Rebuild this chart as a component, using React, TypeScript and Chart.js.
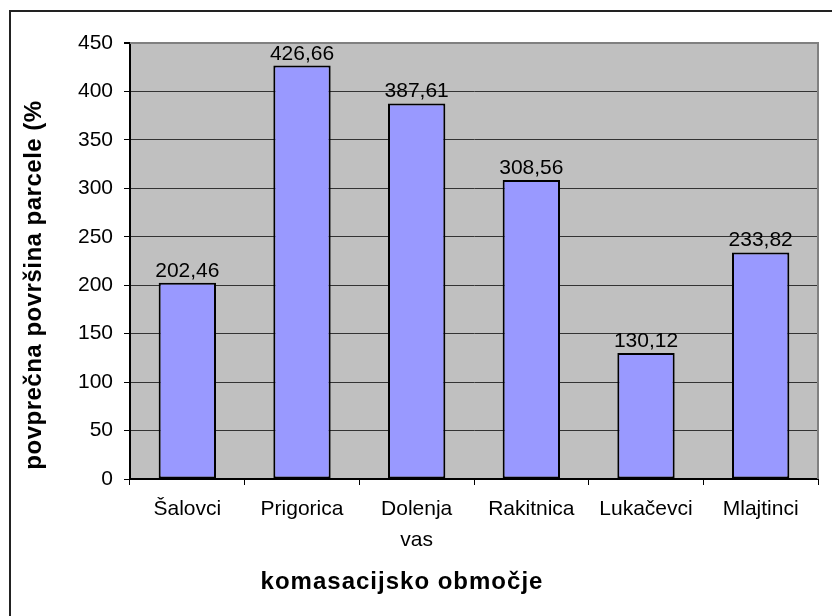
import React, { useEffect, useRef } from "react";
import { Chart, registerables } from "chart.js";

Chart.register(...registerables);

const categories: (string | string[])[] = ["Šalovci", "Prigorica", ["Dolenja", "vas"], "Rakitnica", "Lukačevci", "Mlajtinci"];
const values: number[] = [202.46, 426.66, 387.61, 308.56, 130.12, 233.82];
const yTitle = "povprečna površina parcele (%";
const xTitle = "komasacijsko območje";
const yMin = 0;
const yMax = 450;
const yStep = 50;

const FONT = "Arial, 'Liberation Sans', sans-serif";

const decorPlugin = {
  id: "decor",
  beforeDraw(chart: any) {
    const { ctx, chartArea } = chart;
    ctx.save();
    ctx.fillStyle = "#ffffff";
    ctx.fillRect(0, 0, chart.width, chart.height);
    ctx.fillStyle = "#C0C0C0";
    ctx.fillRect(chartArea.left, chartArea.top, chartArea.right - chartArea.left, chartArea.bottom - chartArea.top);
    ctx.restore();
  },
  afterDraw(chart: any) {
    const { ctx, chartArea } = chart;
    ctx.save();
    // plot right border
    ctx.strokeStyle = "#808080";
    ctx.lineWidth = 2;
    ctx.beginPath();
    ctx.moveTo(chartArea.left, chartArea.top);
    ctx.lineTo(chartArea.right, chartArea.top);
    ctx.lineTo(chartArea.right, chartArea.bottom);
    ctx.stroke();
    // outer frame
    ctx.strokeStyle = "#222";
    ctx.lineWidth = 2;
    ctx.beginPath();
    ctx.moveTo(10, chart.height);
    ctx.lineTo(10, 11);
    ctx.lineTo(chart.width, 11);
    ctx.stroke();
    // titles
    ctx.fillStyle = "#000";
    ctx.font = `bold 24px ${FONT}`;
    (ctx as any).letterSpacing = "1px";
    ctx.textAlign = "center";
    ctx.textBaseline = "alphabetic";
    ctx.fillText(xTitle, 402, 589);
    (ctx as any).letterSpacing = "0.5px";
    ctx.translate(41, 285);
    ctx.rotate(-Math.PI / 2);
    ctx.fillText(yTitle, 0, 0);
    ctx.restore();
  },
  afterDatasetsDraw(chart: any) {
    const { ctx } = chart;
    const meta = chart.getDatasetMeta(0);
    ctx.save();
    ctx.fillStyle = "#000";
    ctx.font = `21px ${FONT}`;
    ctx.textAlign = "center";
    ctx.textBaseline = "alphabetic";
    meta.data.forEach((bar: any, i: number) => {
      ctx.fillText(values[i].toFixed(2).replace(".", ","), bar.x, bar.y - 6);
    });
    ctx.restore();
  },
};

export default function App() {
  const ref = useRef<HTMLCanvasElement>(null);
  useEffect(() => {
    if (!ref.current) return;
    const chart = new Chart(ref.current, {
      type: "bar",
      data: {
        labels: categories,
        datasets: [
          {
            data: values,
            backgroundColor: "#9999FF",
            borderColor: "#000000",
            borderWidth: 2,
            borderSkipped: false,
            barPercentage: 0.5,
            categoryPercentage: 1,
          },
        ],
      },
      options: {
        responsive: false,
        animation: false,
        devicePixelRatio: 1,
        layout: { padding: { left: 0, top: 43, right: 14, bottom: 0 } },
        plugins: { legend: { display: false }, tooltip: { enabled: false } },
        scales: {
          x: {
            afterFit: (s: any) => {
              s.height = 137;
            },
            grid: { drawOnChartArea: false, drawTicks: true, tickLength: 6, color: "#000", offset: true },
            border: { color: "#000", width: 2 },
            ticks: {
              color: "#000",
              padding: 8,
              font: { family: FONT, size: 21, lineHeight: 1.5 },
              maxRotation: 0,
              autoSkip: false,
            },
          },
          y: {
            min: yMin,
            max: yMax,
            afterFit: (s: any) => {
              s.width = 130;
            },
            grid: {
              color: (c: any) => (c.tick && c.tick.value === yMax ? "#808080" : "#333"),
              tickColor: "#000",
              tickLength: 6,
              lineWidth: (c: any) => (c.tick && c.tick.value === yMax ? 2 : 1),
            },
            border: { color: "#000", width: 2 },
            ticks: {
              stepSize: yStep,
              color: "#000",
              padding: 11,
              font: { family: FONT, size: 21 },
            },
          },
        },
      },
      plugins: [decorPlugin],
    });
    return () => chart.destroy();
  }, []);
  return (
    <div style={{ position: "fixed", left: 0, top: 0, width: 832, height: 616, background: "#fff" }}>
      <canvas ref={ref} width={832} height={616} style={{ display: "block", width: 832, height: 616 }} />
    </div>
  );
}
